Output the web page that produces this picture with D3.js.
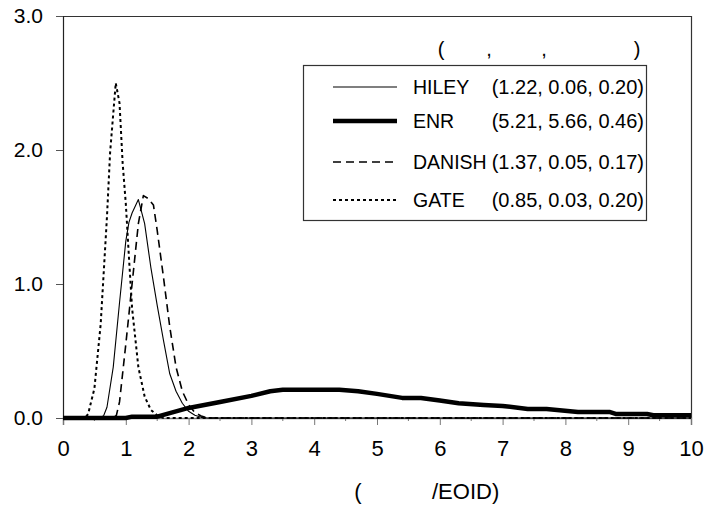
<!DOCTYPE html>
<html>
<head>
<meta charset="utf-8">
<script src="https://cdn.jsdelivr.net/npm/d3@7"></script>
<style>
  html, body { margin: 0; padding: 0; background: #fff; }
  svg { display: block; }
  text { font-family: "Liberation Sans", Arial, sans-serif; fill: #000; }
</style>
</head>
<body>
<svg id="chart" width="707" height="506"></svg>
<script>
// ---- data ----
const xTicks = [0, 1, 2, 3, 4, 5, 6, 7, 8, 9, 10];
const yTicks = [0, 1, 2, 3];

const seriesNames = ["HILEY", "ENR", "DANISH", "GATE"];
const seriesParams = ["(1.22, 0.06, 0.20)", "(5.21, 5.66, 0.46)", "(1.37, 0.05, 0.17)", "(0.85, 0.03, 0.20)"];

const hileyPts = [[0,0],[0.6,0],[0.65,0.02],[0.7,0.08],[0.8,0.38],[0.9,0.86],[1.0,1.32],[1.05,1.46],[1.1,1.53],[1.2,1.63],[1.3,1.45],[1.4,1.12],[1.5,0.84],[1.6,0.58],[1.7,0.33],[1.8,0.2],[1.9,0.11],[2.0,0.05],[2.1,0.02],[2.2,0.005],[2.3,0],[10,0]];
const enrPts = [[0,0],[1.0,0],[1.1,0.01],[1.5,0.01],[2.0,0.075],[2.5,0.12],[3.0,0.165],[3.3,0.2],[3.5,0.21],[4.4,0.21],[4.7,0.2],[5.0,0.18],[5.4,0.15],[5.7,0.15],[6.0,0.13],[6.3,0.11],[6.7,0.097],[7.0,0.09],[7.4,0.067],[7.7,0.067],[8.2,0.045],[8.7,0.045],[8.8,0.03],[9.3,0.03],[9.4,0.02],[10,0.02]];
const danishPts = [[0,0],[0.8,0],[0.85,0.02],[0.9,0.12],[1.0,0.55],[1.1,1.0],[1.2,1.45],[1.28,1.66],[1.35,1.64],[1.44,1.59],[1.5,1.4],[1.6,1.05],[1.7,0.68],[1.8,0.38],[1.9,0.2],[2.0,0.1],[2.1,0.04],[2.2,0.015],[2.3,0],[10,0]];
const gatePts = [[0,0],[0.35,0],[0.4,0.03],[0.5,0.22],[0.6,0.7],[0.7,1.5],[0.75,1.98],[0.8,2.27],[0.84,2.5],[0.9,2.35],[0.95,1.9],[1.0,1.6],[1.05,1.2],[1.1,0.82],[1.2,0.38],[1.3,0.16],[1.4,0.06],[1.5,0.02],[1.6,0],[10,0]];

const headerParts = ["(", ",", ",", ")"];
const xTitleParts = ["(", "/EOID)"];

// ---- layout ----
const svg = d3.select("#chart");
const mLeft = 63, mRight = 691, mTop = 16, mBottom = 418;
const x = d3.scaleLinear().domain([0, 10]).range([mLeft, mRight]);
const y = d3.scaleLinear().domain([0, 3]).range([mBottom, mTop]);

const styles = [
  { w: 1.1, dash: null },
  { w: 4.5, dash: null },
  { w: 1.6, dash: "8,5" },
  { w: 2, dash: "3,3" }
];
const data = [hileyPts, enrPts, danishPts, gatePts];

// frame (top + right)
svg.append("path")
  .attr("d", `M${mLeft},${mTop + 0.5}H${mRight + 0.5}V${mBottom}`)
  .attr("fill", "none").attr("stroke", "#333").attr("stroke-width", 1.2);

// x axis
const xAxis = svg.append("g").attr("transform", `translate(0,${mBottom})`)
  .call(d3.axisBottom(x).tickValues(xTicks).tickSize(7).tickPadding(15).tickFormat(d3.format("d")));
xAxis.select(".domain").attr("stroke", "#777").attr("stroke-width", 1.5);
xAxis.selectAll(".tick line").attr("stroke", "#777");
xAxis.selectAll("text").style("font-size", "22px").style("font-family", "Liberation Sans, Arial, sans-serif").attr("fill", "#000");
// minor ticks
svg.append("g").selectAll("line").data(d3.range(0.5, 10, 1)).join("line")
  .attr("x1", d => x(d)).attr("x2", d => x(d))
  .attr("y1", mBottom).attr("y2", mBottom + 3)
  .attr("stroke", "#777");

// y axis
const yAxis = svg.append("g").attr("transform", `translate(${mLeft},0)`)
  .call(d3.axisLeft(y).tickValues(yTicks).tickSize(7).tickPadding(13).tickFormat(d3.format(".1f")));
yAxis.select(".domain").attr("stroke", "#222").attr("stroke-width", 1.2);
yAxis.selectAll(".tick line").attr("stroke", "#555");
yAxis.selectAll("text").style("font-size", "21px").style("font-family", "Liberation Sans, Arial, sans-serif").attr("fill", "#000");

// series
const line = d3.line().x(d => x(d[0])).y(d => y(d[1]));
data.forEach((pts, i) => {
  svg.append("path").datum(pts)
    .attr("d", line)
    .attr("fill", "none")
    .attr("stroke", "#000")
    .attr("stroke-width", styles[i].w)
    .attr("stroke-dasharray", styles[i].dash)
    .attr("stroke-linejoin", "round");
});

// legend
const lg = svg.append("g");
lg.append("rect").attr("x", 303.5).attr("y", 65.5).attr("width", 343).attr("height", 155)
  .attr("fill", "#fff").attr("stroke", "#333").attr("stroke-width", 1.2);
const rowY = [87, 121, 162, 200];
seriesNames.forEach((n, i) => {
  lg.append("line").attr("x1", 333).attr("x2", 397).attr("y1", rowY[i]).attr("y2", rowY[i])
    .attr("stroke", "#000").attr("stroke-width", styles[i].w).attr("stroke-dasharray", styles[i].dash);
  lg.append("text").attr("x", 413).attr("y", rowY[i]).attr("dy", "0.36em")
    .style("font-size", "19.5px").text(n);
  lg.append("text").attr("x", 644).attr("y", rowY[i]).attr("dy", "0.36em")
    .attr("text-anchor", "end")
    .style("font-size", "20px").text(seriesParams[i]);
});
const headerX = [441, 489, 544, 637];
headerParts.forEach((t, i) => {
  lg.append("text").attr("x", headerX[i]).attr("y", 49).attr("dy", "0.36em")
    .attr("text-anchor", "middle").style("font-size", "20px").text(t);
});

// x title
svg.append("text").attr("x", 358).attr("y", 491).attr("dy", "0.36em").attr("text-anchor", "middle")
  .style("font-size", "22px").text(xTitleParts[0]);
svg.append("text").attr("x", 432).attr("y", 491).attr("dy", "0.36em")
  .style("font-size", "22px").text(xTitleParts[1]);
</script>
</body>
</html>
